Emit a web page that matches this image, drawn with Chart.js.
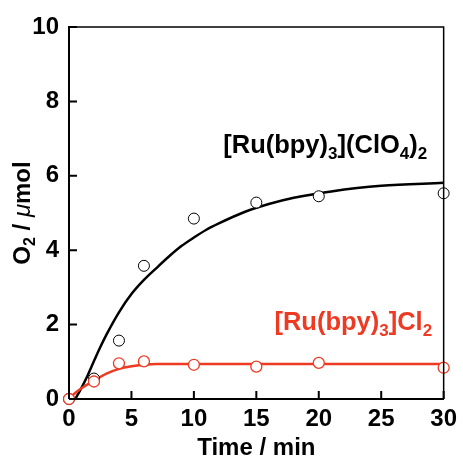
<!DOCTYPE html>
<html lang="en">
<head>
  <meta charset="UTF-8" />
  <title>O2 evolution</title>
  <script src="https://cdn.jsdelivr.net/npm/chart.js"></script>
  <style>
    body { margin: 0; background: #fff; }
    canvas { display: block; }
  </style>
</head>
<body>
  <canvas id="o2Chart" width="463" height="459"></canvas>

  <script>
    // measured points
    const times = [0, 2, 4, 6, 10, 15, 20, 30];
    const clo4Vals = [0, 0.55, 1.57, 3.58, 4.85, 5.28, 5.45, 5.53];
    const cl2Vals = [0, 0.47, 0.96, 1.01, 0.92, 0.87, 0.97, 0.84];

    // fitted curves
    const clo4FitT = [0.5, 1, 1.5, 2, 2.5, 3, 4, 5, 6, 7, 8, 9, 10, 11, 12, 14, 16, 18, 21, 25, 30];
    const clo4FitY = [0, 0.3, 0.64, 1.02, 1.39, 1.73, 2.33, 2.82, 3.2, 3.52, 3.83, 4.11, 4.34, 4.55, 4.72, 5.02, 5.24, 5.41, 5.58, 5.73, 5.81];
    const cl2FitT = [0, 0.5, 1, 2, 3, 4, 5, 6, 7, 30];
    const cl2FitY = [0, 0.16, 0.29, 0.49, 0.68, 0.81, 0.88, 0.92, 0.94, 0.94];

    const xTicks = [0, 5, 10, 15, 20, 25, 30];
    const yTicks = [0, 2, 4, 6, 8, 10];

    // compound labels: [text, isSub], anchored in data units (left edge, baseline)
    const clo4Label = [['[Ru(bpy)', false], ['3', true], ['](ClO', false], ['4', true], [')', false], ['2', true]];
    const cl2Label = [['[Ru(bpy)', false], ['3', true], [']Cl', false], ['2', true]];
    const clo4LabelAt = [12.35, 6.61];
    const cl2LabelAt = [16.45, 1.85];

    const RED = '#ee3a22';
    const FONT = "'Liberation Sans', Arial, sans-serif";

    const pts = (xs, ys) => xs.map((x, i) => ({ x: x, y: ys[i] }));

    function drawRich(ctx, parts, x, y, color, size, subSize) {
      ctx.fillStyle = color;
      ctx.textBaseline = 'alphabetic';
      ctx.textAlign = 'left';
      parts.forEach(([t, sub]) => {
        ctx.font = 'bold ' + (sub ? subSize : size) + 'px ' + FONT;
        ctx.fillText(t, x, sub ? y + Math.round(size * 0.25) : y);
        x += ctx.measureText(t).width;
      });
    }

    const extras = {
      id: 'extras',
      afterDraw(chart) {
        const { ctx, chartArea: a, scales: { x, y } } = chart;
        ctx.save();
        // frame top / right
        ctx.strokeStyle = '#000';
        ctx.lineWidth = 1.5;
        ctx.beginPath();
        ctx.moveTo(a.left, a.top);
        ctx.lineTo(a.right, a.top);
        ctx.lineTo(a.right, a.bottom);
        ctx.stroke();
        // inward ticks
        ctx.lineWidth = 2;
        ctx.beginPath();
        xTicks.forEach(v => {
          const px = x.getPixelForValue(v);
          ctx.moveTo(px, a.bottom);
          ctx.lineTo(px, a.bottom - 8);
        });
        yTicks.forEach(v => {
          const py = y.getPixelForValue(v);
          ctx.moveTo(a.left, py);
          ctx.lineTo(a.left + 8, py);
        });
        ctx.stroke();

        // series labels
        drawRich(ctx, clo4Label, x.getPixelForValue(clo4LabelAt[0]), y.getPixelForValue(clo4LabelAt[1]), '#000', 25.5, 17);
        drawRich(ctx, cl2Label, x.getPixelForValue(cl2LabelAt[0]), y.getPixelForValue(cl2LabelAt[1]), RED, 25.5, 17);

        // y title: O2 / μmol
        const parts = [['O', 'bold 24px '], ['2', 'bold 16px '], [' / ', 'bold 24px '], ['\u03bc', 'italic 24px '], ['mol', 'bold 24px ']];
        let w = 0;
        parts.forEach(([t, f]) => { ctx.font = f + FONT; w += ctx.measureText(t).width; });
        ctx.translate(30, (a.top + a.bottom) / 2);
        ctx.rotate(-Math.PI / 2);
        ctx.fillStyle = '#000';
        ctx.textBaseline = 'alphabetic';
        let cx = -w / 2;
        parts.forEach(([t, f]) => {
          ctx.font = f + FONT;
          ctx.fillText(t, cx, t === '2' ? 5 : 0);
          cx += ctx.measureText(t).width;
        });
        ctx.restore();
      }
    };

    new Chart(document.getElementById('o2Chart'), {
      type: 'scatter',
      data: {
        datasets: [
          {
            label: 'ClO4 fit',
            data: pts(clo4FitT, clo4FitY),
            showLine: true,
            borderColor: '#000',
            borderWidth: 2.5,
            pointRadius: 0,
            cubicInterpolationMode: 'monotone',
            order: 3
          },
          {
            label: 'Cl2 fit',
            data: pts(cl2FitT, cl2FitY),
            showLine: true,
            borderColor: RED,
            borderWidth: 2.5,
            pointRadius: 0,
            cubicInterpolationMode: 'monotone',
            order: 2
          },
          {
            label: '[Ru(bpy)3](ClO4)2',
            data: pts(times, clo4Vals),
            pointRadius: 5.5,
            pointBackgroundColor: '#fff',
            pointBorderColor: '#000',
            pointBorderWidth: 1,
            order: 1
          },
          {
            label: '[Ru(bpy)3]Cl2',
            data: pts(times, cl2Vals),
            pointRadius: 5.5,
            pointBackgroundColor: '#fff',
            pointBorderColor: RED,
            pointBorderWidth: 1.3,
            order: 0
          }
        ]
      },
      options: {
        responsive: false,
        animation: false,
        clip: false,
        layout: { padding: { top: 27, right: 15, left: 0, bottom: 0 } },
        plugins: { legend: { display: false }, tooltip: { enabled: false } },
        scales: {
          x: {
            type: 'linear',
            min: 0, max: 30,
            afterFit: s => { s.height = 60; },
            afterBuildTicks: s => { s.ticks = xTicks.map(v => ({ value: v })); },
            grid: { drawOnChartArea: false, drawTicks: false },
            border: { display: true, color: '#000', width: 2 },
            ticks: { color: '#000', padding: 6, maxRotation: 0, font: { family: FONT, size: 24, weight: 'bold' } },
            title: {
              display: true, text: 'Time / min', color: '#000', padding: 0,
              font: { family: FONT, size: 24, weight: 'bold', lineHeight: 0.85 }
            }
          },
          y: {
            type: 'linear',
            min: 0, max: 10,
            afterFit: s => { s.width = 69; },
            afterBuildTicks: s => { s.ticks = yTicks.map(v => ({ value: v })); },
            grid: { drawOnChartArea: false, drawTicks: false },
            border: { display: true, color: '#000', width: 2 },
            ticks: { color: '#000', padding: 10, font: { family: FONT, size: 24, weight: 'bold' } }
          }
        }
      },
      plugins: [extras]
    });
  </script>
</body>
</html>
